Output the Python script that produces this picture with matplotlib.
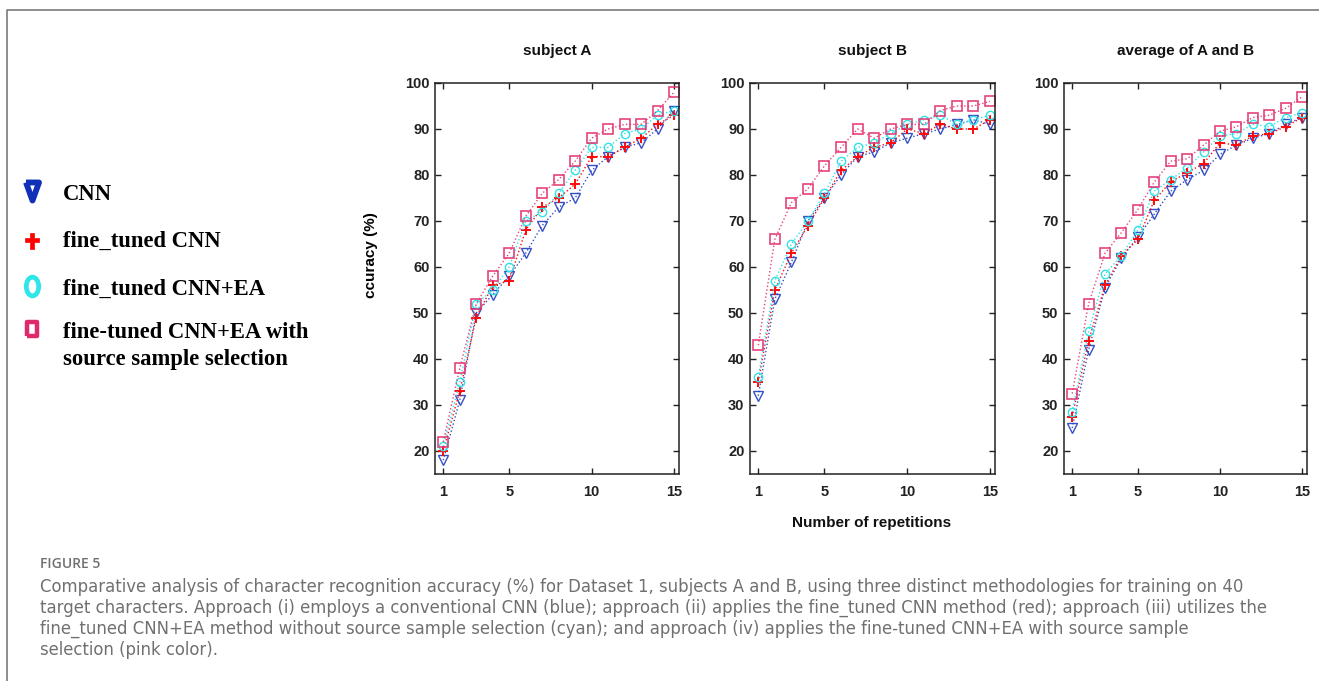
import matplotlib
matplotlib.use('Agg')
import matplotlib.pyplot as plt
from matplotlib.path import Path
from matplotlib.transforms import Affine2D

# ---- data (accuracy %) ----
reps = list(range(1, 16))

cnn_a = [18, 31, 50, 54, 58, 63, 69, 73, 75, 81, 84, 86, 87, 90, 94]
ft_a = [20, 33, 49, 56, 57, 68, 73, 75, 78, 84, 84, 86, 88, 91, 93]
ftea_a = [21, 35, 52, 55, 60, 70, 72, 76, 81, 86, 86, 89, 90, 93, 94]
sel_a = [22, 38, 52, 58, 63, 71, 76, 79, 83, 88, 90, 91, 91, 94, 98]

cnn_b = [32, 53, 61, 70, 75, 80, 84, 85, 87, 88, 89, 90, 91, 92, 91]
ft_b = [35, 55, 63, 69, 75, 81, 84, 86, 87, 90, 89, 91, 90, 90, 92]
ftea_b = [36, 57, 65, 70, 76, 83, 86, 87, 89, 91, 92, 93, 91, 92, 93]
sel_b = [43, 66, 74, 77, 82, 86, 90, 88, 90, 91, 91, 94, 95, 95, 96]

cnn_avg = [25, 42, 55.5, 62, 66.5, 71.5, 76.5, 79, 81, 84.5, 86.5, 88, 89, 91, 92.5]
ft_avg = [27.5, 44, 56, 62.5, 66, 74.5, 78.5, 80.5, 82.5, 87, 86.5, 88.5, 89, 90.5, 92.5]
ftea_avg = [28.5, 46, 58.5, 62.5, 68, 76.5, 79, 81.5, 85, 88.5, 89, 91, 90.5, 92.5, 93.5]
sel_avg = [32.5, 52, 63, 67.5, 72.5, 78.5, 83, 83.5, 86.5, 89.5, 90.5, 92.5, 93, 94.5, 97]

titles = ['subject A', 'subject B', 'average of A and B']
labels = ['CNN', 'fine_tuned CNN', 'fine_tuned CNN+EA',
          'fine-tuned CNN+EA with', 'source sample selection']

caption_head = 'FIGURE 5'
caption = [
    'Comparative analysis of character recognition accuracy (%) for Dataset 1, subjects A and B, using three distinct methodologies for training on 40',
    'target characters. Approach (i) employs a conventional CNN (blue); approach (ii) applies the fine_tuned CNN method (red); approach (iii) utilizes the',
    'fine_tuned CNN+EA method without source sample selection (cyan); and approach (iv) applies the fine-tuned CNN+EA with source sample',
    'selection (pink color).',
]

BLUE = '#1f3cc0'
RED = '#ff0a0a'
CYAN = '#33e2e8'
PINK = '#e2306f'

plt.rcParams['font.family'] = ['Liberation Sans', 'DejaVu Sans']

W, H = 1319, 681
fig = plt.figure(figsize=(W / 100, H / 100), dpi=100)


def box(l, t, r, b):
    return [l / W, 1 - b / H, (r - l) / W, (b - t) / H]


panels = [
    (435, 679, [cnn_a, ft_a, ftea_a, sel_a]),
    (750, 995, [cnn_b, ft_b, ftea_b, sel_b]),
    (1064, 1307, [cnn_avg, ft_avg, ftea_avg, sel_avg]),
]

styles = [
    dict(color=BLUE, marker='v', ms=6.5, mfc='none', mew=1.0, alpha=0.9),
    dict(color=RED, marker='+', ms=7.5, mew=1.4),
    dict(color=CYAN, marker='o', ms=6, mfc='none', mew=1.0),
    dict(color=PINK, marker='s', ms=6.5, mfc='none', mew=1.2, alpha=0.9),
]

axes = []
for (l, r, series), title in zip(panels, titles):
    ax = fig.add_axes(box(l, 83, r, 474))
    for ys, st in zip(series, styles):
        ax.plot(reps, ys, ls=':', lw=1.0, **st)
    ax.set_xlim(0.5, 15.3)
    ax.set_ylim(15, 100)
    ax.set_xticks([1, 5, 10, 15])
    ax.set_yticks(range(20, 101, 10))
    ax.tick_params(direction='in', top=True, right=True, length=4, width=1,
                   labelsize=10.5, colors='#222222', pad=4)
    ax.tick_params(axis='x', pad=8)
    for lab in ax.get_xticklabels() + ax.get_yticklabels():
        lab.set_fontweight('bold')
    for sp in ax.spines.values():
        sp.set_linewidth(1.1)
        sp.set_color('#222222')
    ax.set_title(title, fontsize=11, fontweight='bold', pad=20, color='#111111')
    axes.append(ax)

axes[0].set_ylabel('ccuracy (%)', fontsize=11, fontweight='bold')
axes[0].yaxis.set_label_coords(-0.235, 0.56)
fig.text(872 / W, 1 - 523 / H, 'Number of repetitions', ha='center', va='center',
         fontsize=11, fontweight='bold', color='#111111')

# overlay in pixel coordinates for the frame, legend and caption
ov = fig.add_axes([0, 0, 1, 1], zorder=-1)
ov.set_xlim(0, W)
ov.set_ylim(H, 0)
ov.axis('off')
ov.plot([7, 7, W], [H, 10, 10], color='#7a7a7a', lw=1.2, solid_capstyle='butt')

tri = Path([(-0.36, 0.5), (0.36, 0.5), (0.0, -0.5), (-0.36, 0.5)])
plus = Path([(-0.14, 0.5), (0.14, 0.5), (0.14, 0.2), (0.43, 0.2), (0.43, -0.08),
             (0.14, -0.08), (0.14, -0.5), (-0.14, -0.5), (-0.14, -0.08),
             (-0.43, -0.08), (-0.43, 0.2), (-0.14, 0.2), (-0.14, 0.5)])
ell = Path.unit_circle().transformed(Affine2D().scale(0.66, 1.0))
rect = Path([(-0.32, -0.5), (0.32, -0.5), (0.32, 0.5), (-0.32, 0.5), (-0.32, -0.5)])

leg_marks = [
    (191, dict(marker=tri, ms=13, mfc='white', mec='#1030b8', mew=4.2)),
    (241, dict(marker=plus, ms=11, mfc='#ff0000', mec='#ff0000', mew=0.5)),
    (286, dict(marker=ell, ms=13.5, mfc='white', mec='#2ee6ea', mew=3.4)),
    (329, dict(marker=rect, ms=10.5, mfc='white', mec='#e0286e', mew=3.2)),
]
for y, st in leg_marks:
    ov.plot([32], [y], ls='none', **st)

serif = ['Liberation Serif', 'DejaVu Serif']
for y, lab in zip([200, 247, 295, 338, 365], labels):
    ov.text(63, y, lab, family=serif, fontsize=16.3, fontweight='bold',
            va='baseline', ha='left', color='#000000')

ov.text(40, 564, caption_head, family=['Open Sans', 'DejaVu Sans'], fontsize=10,
        color='#707070', va='center', ha='left', fontweight='semibold')
for y, line in zip([587, 608, 629, 650], caption):
    ov.text(40, y, line, family=['DejaVu Sans'], fontsize=11.9,
            color='#707070', va='center', ha='left')

fig.savefig('out.png', dpi=100)
